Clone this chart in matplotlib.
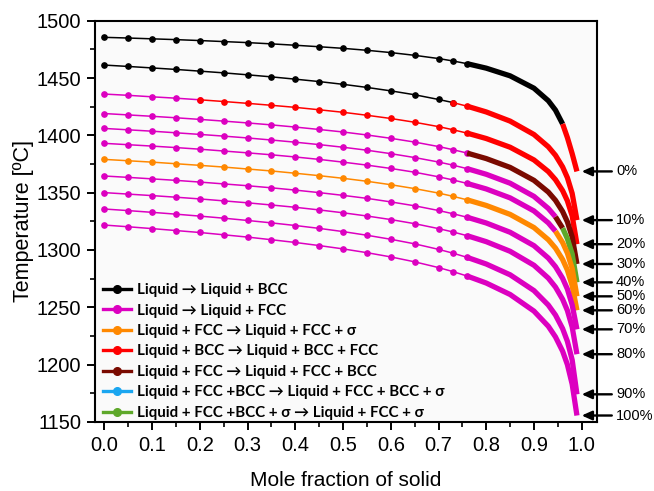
import matplotlib.pyplot as plt
from matplotlib.lines import Line2D

# mole fraction of solid (shared grid) and temperatures
fs = [0.00, 0.05, 0.10, 0.15, 0.20, 0.25, 0.30, 0.35, 0.40, 0.45, 0.50, 0.55, 0.60,
      0.65, 0.70, 0.73, 0.76, 0.80, 0.85, 0.90, 0.93, 0.945, 0.96, 0.97, 0.98, 0.99]

T_0 = [1485.5, 1484.9, 1484.2, 1483.5, 1482.7, 1481.8, 1480.9, 1479.8, 1478.6, 1477.3, 1475.9,
       1474.2, 1472.2, 1469.8, 1467.0, 1464.9, 1462.5, 1458.6, 1451.9, 1441.1, 1430.2, 1422.0,
       1409.9, 1398.0, 1384.0, 1368.5]
T_10 = [1461.3, 1460.1, 1458.8, 1457.5, 1456.0, 1454.5, 1452.8, 1451.0, 1449.0, 1446.9, 1444.5,
        1441.8, 1438.8, 1435.4, 1431.3, 1428.6, 1425.4, 1420.4, 1412.4, 1400.7, 1390.0, 1382.6,
        1372.4, 1363.0, 1349.3, 1326.0]
T_20 = [1436.0, 1434.9, 1433.6, 1432.4, 1431.0, 1429.5, 1427.9, 1426.2, 1424.4, 1422.3, 1420.1,
        1417.5, 1414.7, 1411.4, 1407.6, 1404.9, 1401.9, 1397.2, 1389.6, 1378.5, 1368.4, 1361.3,
        1351.7, 1342.8, 1329.7, 1305.0]
T_30 = [1419.0, 1417.8, 1416.6, 1415.3, 1413.9, 1412.4, 1410.8, 1409.1, 1407.2, 1405.1, 1402.9,
        1400.3, 1397.4, 1394.1, 1390.2, 1387.5, 1384.5, 1379.7, 1372.0, 1360.7, 1350.5, 1343.3,
        1333.5, 1324.5, 1311.3, 1287.7]
T_40 = [1406.0, 1404.8, 1403.6, 1402.2, 1400.8, 1399.3, 1397.7, 1395.9, 1394.0, 1391.9, 1389.6,
        1387.0, 1384.0, 1380.6, 1376.7, 1374.0, 1370.9, 1366.0, 1358.2, 1346.7, 1336.2, 1328.9,
        1319.0, 1309.8, 1296.4, 1271.7]
T_50 = [1393.0, 1391.8, 1390.6, 1389.3, 1387.9, 1386.3, 1384.7, 1383.0, 1381.1, 1379.0, 1376.6,
        1374.0, 1371.1, 1367.8, 1363.8, 1361.1, 1358.0, 1353.2, 1345.4, 1334.0, 1323.6, 1316.3,
        1306.4, 1297.2, 1283.8, 1259.5]
T_60 = [1379.0, 1377.8, 1376.6, 1375.2, 1373.8, 1372.3, 1370.6, 1368.9, 1366.9, 1364.8, 1362.5,
        1359.9, 1356.9, 1353.5, 1349.6, 1346.8, 1343.7, 1338.8, 1331.0, 1319.5, 1308.9, 1301.6,
        1291.6, 1282.4, 1268.9, 1247.3]
T_70 = [1364.5, 1363.3, 1362.0, 1360.7, 1359.2, 1357.6, 1356.0, 1354.2, 1352.2, 1350.0, 1347.6,
        1345.0, 1341.9, 1338.5, 1334.4, 1331.6, 1328.5, 1323.5, 1315.4, 1303.7, 1292.9, 1285.4,
        1275.2, 1265.8, 1252.0, 1230.7]
T_80 = [1350.0, 1348.7, 1347.4, 1346.0, 1344.5, 1342.8, 1341.1, 1339.2, 1337.2, 1334.9, 1332.4,
        1329.6, 1326.5, 1322.9, 1318.6, 1315.7, 1312.4, 1307.2, 1298.8, 1286.6, 1275.4, 1267.6,
        1256.9, 1247.1, 1232.7, 1209.0]
T_90 = [1335.7, 1334.3, 1332.8, 1331.2, 1329.5, 1327.7, 1325.7, 1323.6, 1321.3, 1318.8, 1316.0,
        1312.8, 1309.3, 1305.3, 1300.5, 1297.2, 1293.5, 1287.7, 1278.3, 1264.5, 1251.9, 1243.2,
        1231.3, 1220.2, 1204.0, 1174.0]
T_100 = [1321.7, 1320.2, 1318.6, 1316.9, 1315.2, 1313.2, 1311.2, 1308.9, 1306.5, 1303.8, 1300.9,
         1297.6, 1293.9, 1289.6, 1284.6, 1281.1, 1277.2, 1271.1, 1261.1, 1246.6, 1233.4, 1224.1,
         1211.6, 1199.9, 1182.8, 1155.5]

curves = [T_0, T_10, T_20, T_30, T_40, T_50, T_60, T_70, T_80, T_90, T_100]
end_labels = ['0%', '10%', '20%', '30%', '40%', '50%', '60%', '70%', '80%', '90%', '100%']

# phase colours
c_bcc = 'black'
c_fcc = '#dc00c0'
c_sig = '#ff8800'
c_bf = '#ff0000'
c_fb = '#7a0a00'
c_fbs = '#1aa6f0'
c_fsg = '#5ea82a'

# phase changes along each curve: (colour, fs start, fs end)
phases = [
    [(c_bcc, 0.0, 0.96), (c_bf, 0.96, 0.99)],
    [(c_bcc, 0.0, 0.73), (c_bf, 0.73, 0.99)],
    [(c_fcc, 0.0, 0.20), (c_bf, 0.20, 0.99)],
    [(c_fcc, 0.0, 0.76), (c_fb, 0.76, 0.99)],
    [(c_fcc, 0.0, 0.945), (c_fb, 0.945, 0.96), (c_fsg, 0.96, 0.99)],
    [(c_fcc, 0.0, 0.945), (c_sig, 0.945, 0.99)],
    [(c_sig, 0.0, 0.99)],
    [(c_fcc, 0.0, 0.99)],
    [(c_fcc, 0.0, 0.99)],
    [(c_fcc, 0.0, 0.99)],
    [(c_fcc, 0.0, 0.99)],
]

plt.rcParams['font.family'] = ['Liberation Sans', 'DejaVu Sans']

fig = plt.figure(figsize=(6.54, 4.91), dpi=100)
ax = fig.add_axes([0.1453, 0.1409, 0.7671, 0.8169])
ax.set_facecolor('#fafafa')

# markers are distinguishable up to ~0.76, after that they merge into a thick line
i_dense = fs.index(0.76)
for T, segs in zip(curves, phases):
    for color, a, b in segs:
        i0, i1 = fs.index(a), fs.index(b)
        if i0 < i_dense:
            j = min(i1, i_dense)
            ax.plot(fs[i0:j + 1], T[i0:j + 1], '-o', color=color, lw=1.1, ms=3.8, zorder=3)
        if i1 > i_dense:
            j = max(i0, i_dense)
            ax.plot(fs[j:i1 + 1], T[j:i1 + 1], '-', color=color, lw=3.8,
                    solid_capstyle='butt', zorder=3)

ax.set_xlim(-0.0195, 1.0314)
ax.set_ylim(1150, 1500)
ax.set_xticks([0.0, 0.1, 0.2, 0.3, 0.4, 0.5, 0.6, 0.7, 0.8, 0.9, 1.0])
ax.set_xticks([0.05, 0.15, 0.25, 0.35, 0.45, 0.55, 0.65, 0.75, 0.85, 0.95], minor=True)
ax.set_yticks(range(1150, 1501, 50))
ax.set_yticks(range(1175, 1500, 50), minor=True)
ax.tick_params(which='major', direction='out', length=6, width=1.4, labelsize=14.5, pad=4)
ax.tick_params(which='minor', direction='out', length=3.5, width=1.2)
ax.tick_params(top=False, right=False)
for s in ax.spines.values():
    s.set_linewidth(1.5)

ax.set_xlabel('Mole fraction of solid', fontsize=15, labelpad=12)
ax.set_ylabel('Temperature [ºC]', fontsize=15.5, labelpad=2)

# arrows pointing at the end temperature of each curve
for T, lab in zip(curves, end_labels):
    ax.annotate('', xy=(1.0, T[-1]), xytext=(1.063, T[-1]),
                arrowprops=dict(arrowstyle='-|>,head_length=0.6,head_width=0.27',
                                mutation_scale=10, color='black', lw=1.7,
                                shrinkA=0, shrinkB=0),
                annotation_clip=False)
    ax.text(1.072, T[-1], lab, va='center', ha='left', fontsize=10.5, clip_on=False)

legend_labels = [
    'Liquid → Liquid + BCC',
    'Liquid → Liquid + FCC',
    'Liquid + FCC → Liquid + FCC + σ',
    'Liquid + BCC → Liquid + BCC + FCC',
    'Liquid + FCC → Liquid + FCC + BCC',
    'Liquid + FCC +BCC → Liquid + FCC + BCC + σ',
    'Liquid + FCC +BCC + σ → Liquid + FCC + σ',
]
legend_colors = [c_bcc, c_fcc, c_sig, c_bf, c_fb, c_fbs, c_fsg]
handles = [Line2D([], [], color=c, lw=2.4, marker='o', ms=5.5) for c in legend_colors]
ax.legend(handles, legend_labels, loc='upper left', bbox_to_anchor=(-0.006, 0.372),
          frameon=False, handlelength=1.9, handletextpad=0.4, labelspacing=0.43,
          borderpad=0.2, prop=dict(family=['Lato', 'DejaVu Sans'], weight='bold', size=10.8))

fig.savefig('out.png', dpi=100)
